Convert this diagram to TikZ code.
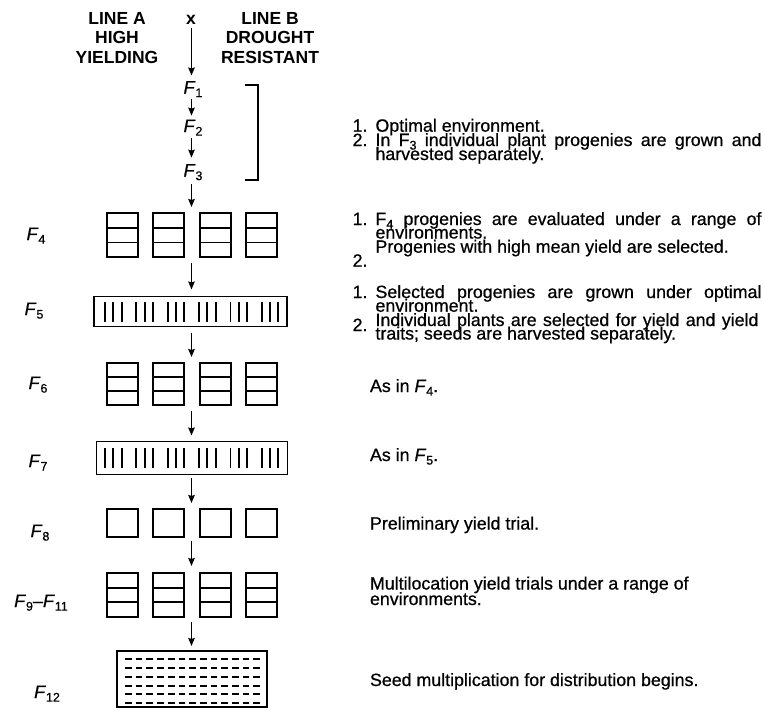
\documentclass[tikz,border=0pt]{standalone}
\usepackage{fontspec}
\setmainfont{Liberation Sans}
\newfontfamily\descfont{Liberation Sans}[FakeBold=0.7,Ligatures=TeX]
\usetikzlibrary{arrows.meta}
\newcommand{\sbs}[1]{\raisebox{-0.38ex}{\fontsize{12.5}{12.5}\selectfont #1}}
\newcommand{\Fs}[1]{\textit{F}\sbs{#1}}
\newcommand{\Fu}[1]{F\sbs{#1}}
\begin{document}
\begin{tikzpicture}[x=1pt,y=-1pt,
  hdr/.style={font=\fontsize{17.5}{17.5}\selectfont\bfseries, anchor=base, inner sep=0, outer sep=0},
  desc/.style={font=\descfont\fontsize{17.8}{18}\selectfont, anchor=base west, inner sep=0, outer sep=0},
  num/.style={font=\descfont\fontsize{17.8}{18}\selectfont, anchor=base east, inner sep=0, outer sep=0},
  flab/.style={font=\descfont\fontsize{18}{18}\selectfont, anchor=base, inner sep=0, outer sep=0},
  arr/.style={line width=1.4pt, -{Stealth[length=8pt,width=6.5pt,inset=1pt]}},
  boxline/.style={draw, line width=1.8pt},
  rowbox/.style={inner sep=0, outer sep=0},
  bar/.style={line width=1.8pt},
  seeds/.style={line width=1.7pt, dash pattern=on 6.7pt off 4pt}
]
\useasboundingbox[fill=white] (0,0) rectangle (765,707);

% headers
\node[hdr] (la1) at (117,24) {LINE A};
\node[hdr] (la2) at (117,43.5) {HIGH};
\node[hdr] (la3) at (117,63) {YIELDING};
\node[hdr] (lb1) at (270,24) {LINE B};
\node[hdr] (lb2) at (270,43.5) {DROUGHT};
\node[hdr] (lb3) at (270,63) {RESISTANT};
\node[hdr] (cross) at (191,24) {x};

% central generations
\node[flab] (f1) at (193,93.5) {\Fs{1}};
\node[flab] (f2) at (193,132) {\Fs{2}};
\node[flab] (f3) at (193,176.5) {\Fs{3}};
\coordinate (col) at (191.5,0);

% bracket
\draw[line width=1.6pt] (245,85) -- (258,85) -- (258,180) -- (245,180);

% row nodes
\node[rowbox, minimum width=170pt, minimum height=44pt] (r4) at (192,235) {};
\node[rowbox, boxline, minimum width=193pt, minimum height=30pt] (r5) at (190.5,311.5) {};
\node[rowbox, minimum width=170pt, minimum height=42pt] (r6) at (192,384) {};
\node[rowbox, boxline, minimum width=191pt, minimum height=33pt] (r7) at (192,458) {};
\node[rowbox, minimum width=170pt, minimum height=28pt] (r8) at (192,523) {};
\node[rowbox, minimum width=170pt, minimum height=44pt] (r9) at (192,595) {};
\node[rowbox, boxline, minimum width=150pt, minimum height=56pt] (r12) at (191.7,679) {};

% four-box rows
\foreach \x in {107,153.3,199.7,246}{
  \draw[boxline] (\x,213) rectangle ++(31,44);
  \draw[line width=1.8pt] (\x,228) -- ++(31,0) (\x,242.5) -- ++(31,0);
  \draw[boxline] (\x,363) rectangle ++(31,42);
  \draw[line width=1.8pt] (\x,377) -- ++(31,0) (\x,391) -- ++(31,0);
  \draw[boxline] (\x,509) rectangle ++(31,28);
  \draw[boxline] (\x,573) rectangle ++(31,44);
  \draw[line width=1.8pt] (\x,588) -- ++(31,0) (\x,602) -- ++(31,0);
}

% bars in F5 and F7
\foreach \g in {0,...,5}{
  \foreach \d in {-8.3,0,8.3}{
    \draw[bar] (113.3+31.35*\g+\d,302) -- ++(0,20);
    \draw[bar] (113.3+31.35*\g+\d,448) -- ++(0,20);
  }
}

% seed rows in F12
\foreach \yy in {659,667.7,676.7,685.7,694.3,703.3}{
  \draw[seeds] (125,\yy) -- (260,\yy);
}

% arrows
\draw[arr, shorten <=4pt, shorten >=5.6pt] (col |- cross.south) -- (col |- f1.north);
\draw[arr, shorten <=1.7pt, shorten >=4pt] (col |- f1.south) -- (col |- f2.north);
\draw[arr, shorten <=2.2pt, shorten >=6.5pt] (col |- f2.south) -- (col |- f3.north);
\draw[arr, shorten <=3.7pt, shorten >=6pt] (col |- f3.south) -- (col |- r4.north);
\draw[arr, shorten <=6pt, shorten >=7pt] (col |- r4.south) -- (col |- r5.north);
\draw[arr, shorten <=6pt, shorten >=6pt] (col |- r5.south) -- (col |- r6.north);
\draw[arr, shorten <=6pt, shorten >=6pt] (col |- r6.south) -- (col |- r7.north);
\draw[arr, shorten <=3.5pt, shorten >=6pt] (col |- r7.south) -- (col |- r8.north);
\draw[arr, shorten <=3.5pt, shorten >=7pt] (col |- r8.south) -- (col |- r9.north);
\draw[arr, shorten <=5pt, shorten >=5pt] (col |- r9.south) -- (col |- r12.north);

% left labels
\node[flab] (l4) at (36,240) {\Fs{4}};
\node[flab] (l5) at (34,315) {\Fs{5}};
\node[flab] (l6) at (38,389) {\Fs{6}};
\node[flab] (l7) at (38,467) {\Fs{7}};
\node[flab] (l8) at (40,537) {\Fs{8}};
\node[flab] (l9) at (41,607) {\Fs{9}\textendash\Fs{11}};
\node[flab] (l12) at (47,698) {\Fs{12}};

% block 1
\node[num] (n11) at (367.5,131.7) {1.};
\node[num] (n12) at (367.5,146) {2.};
\node[desc] (t11) at (375.5,131.7) {Optimal environment.};
\node[desc] (t12) at (375.5,146) {\makebox[386pt][s]{In \Fu{3} individual plant progenies are grown and}};
\node[desc] (t13) at (375.5,160) {harvested separately.};

% block 2
\node[num] (n21) at (367.5,225) {1.};
\node[num] (n22) at (367.5,266.7) {2.};
\node[desc] (t21) at (375.5,225) {\makebox[386pt][s]{\Fu{4} progenies are evaluated under a range of}};
\node[desc] (t22) at (375.5,238.5) {environments.};
\node[desc] (t23) at (375.5,252.7) {Progenies with high mean yield are selected.};

% block 3
\node[num] (n31) at (367.5,298) {1.};
\node[num] (n32) at (367.5,331) {2.};
\node[desc] (t31) at (375.5,298) {\makebox[386pt][s]{Selected progenies are grown under optimal}};
\node[desc] (t32) at (375.5,311.7) {environment.};
\node[desc] (t33) at (375.5,326) {\makebox[383pt][s]{Individual plants are selected for yield and yield}};
\node[desc] (t34) at (375.5,339.5) {traits; seeds are harvested separately.};

% lower descriptions
\node[desc] (t6) at (370,392) {As in \Fs{4}.};
\node[desc] (t7) at (370,461) {As in \Fs{5}.};
\node[desc] (t8) at (370,529.5) {Preliminary yield trial.};
\node[desc] (t9a) at (370,589.5) {Multilocation yield trials under a range of};
\node[desc] (t9b) at (370,605) {environments.};
\node[desc] (t12d) at (370,686) {Seed multiplication for distribution begins.};
\end{tikzpicture}
\end{document}
